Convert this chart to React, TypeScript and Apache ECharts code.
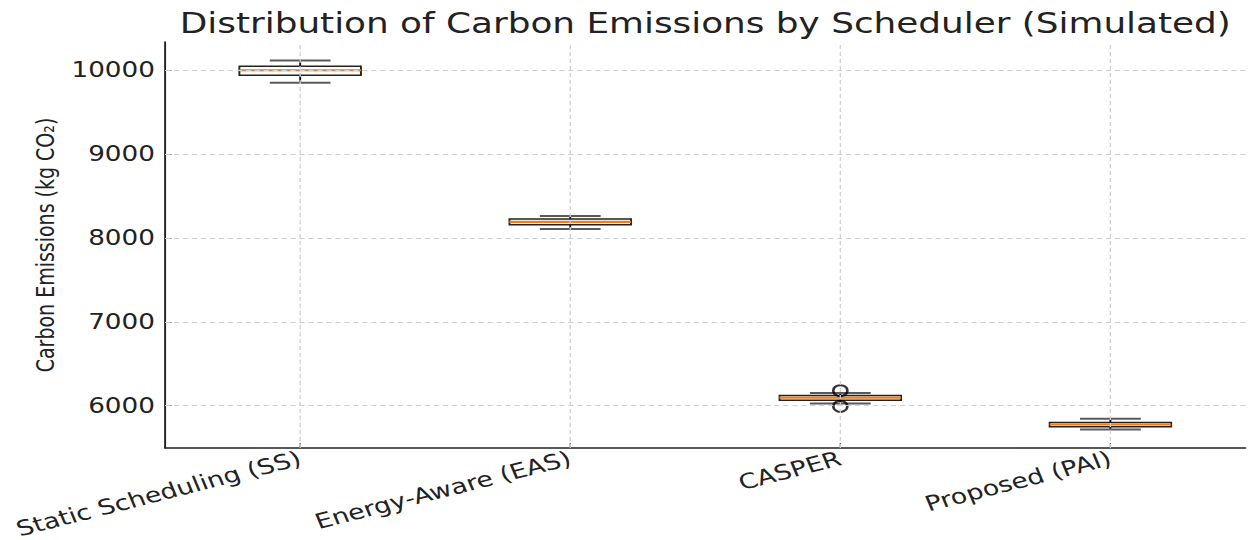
import { useEffect, useRef } from 'react';
import * as echarts from 'echarts';

// ---- data ----
const categories = ['Static Scheduling (SS)', 'Energy-Aware (EAS)', 'CASPER', 'Proposed (PAI)'];
const whiskerLow = [9850, 8105, 6025, 5715];
const q1 = [9938, 8155, 6065, 5748];
const median = [9998, 8190, 6095, 5775];
const q3 = [10045, 8225, 6122, 5800];
const whiskerHigh = [10115, 8262, 6150, 5845];
const outlierCategory = ['CASPER', 'CASPER'];
const outlierValues = [6178, 5992];
const yTicks = [6000, 7000, 8000, 9000, 10000];
const yMin = 5495;
const yMax = 10335;

const titleText = 'Distribution of Carbon Emissions by Scheduler (Simulated)';
const yName = 'Carbon Emissions (kg CO\u2082)';

// ---- layout (the reference is horizontally stretched) ----
const W = 1253;
const H = 540;
const STRETCH = 1.28;
const innerW = Math.round(W / STRETCH);
const FONT = 'DejaVu Sans';

export default function App() {
  const ref = useRef<HTMLDivElement>(null);

  useEffect(() => {
    if (!ref.current) return;
    const chart = echarts.init(ref.current, null, { renderer: 'svg', width: innerW, height: H });

    const boxData = categories.map((_, i) => [i, whiskerLow[i], q1[i], median[i], q3[i], whiskerHigh[i]]);
    const outlierData = outlierCategory.map((c, i) => [c, outlierValues[i]]);

    const gridStyle = { color: '#cfcfcf', width: 1, type: [4, 3] as any };

    const option: any = {
      animation: false,
      backgroundColor: '#ffffff',
      title: {
        text: titleText,
        left: 546,
        top: 4,
        textAlign: 'center',
        textStyle: { fontFamily: FONT, fontSize: 28, fontWeight: 'normal', color: '#222' },
      },
      grid: { left: 129, right: 6, top: 42, bottom: 92, containLabel: false, outerBoundsMode: 'none' },
      xAxis: {
        type: 'category',
        data: categories,
        boundaryGap: true,
        axisLine: { show: true, lineStyle: { color: '#222', width: 1.5 } },
        axisTick: { show: true, alignWithLabel: true, inside: true, length: 5, lineStyle: { color: '#555', width: 1 } },
        axisLabel: { rotate: 18, margin: 10, fontFamily: FONT, fontSize: 21, color: '#222', interval: 0 },
        splitLine: { show: false },
      },
      yAxis: {
        type: 'value',
        min: yMin,
        max: yMax,
        name: yName,
        nameLocation: 'middle',
        nameRotate: 90,
        nameGap: 76,
        nameTextStyle: { fontFamily: FONT, fontSize: 19, color: '#222' },
        axisLine: { show: true, lineStyle: { color: '#222', width: 1.5 } },
        axisTick: { show: true, inside: true, length: 5, customValues: yTicks, lineStyle: { color: '#777', width: 1 } },
        axisLabel: {
          customValues: yTicks,
          margin: 8,
          fontFamily: FONT,
          fontSize: 20.5,
          color: '#222',
          formatter: (v: number) => String(v),
        },
        splitLine: { show: false },
      },
      series: [
        {
          type: 'custom',
          z: 3,
          encode: { x: 0, y: [1, 2, 3, 4, 5] },
          data: boxData,
          renderItem: (params: any, api: any) => {
            const i = api.value(0);
            const cx = api.coord([i, api.value(3)])[0];
            const yLow = api.coord([i, api.value(1)])[1];
            const yQ1 = api.coord([i, api.value(2)])[1];
            const yMed = api.coord([i, api.value(3)])[1];
            const yQ3 = api.coord([i, api.value(4)])[1];
            const yHigh = api.coord([i, api.value(5)])[1];
            const band = (api.size([1, 0]) as number[])[0];
            const bw = band * 0.45;
            const cw = band * 0.225;
            return {
              type: 'group',
              children: [
                { type: 'line', shape: { x1: cx, y1: yQ1, x2: cx, y2: yLow }, style: { stroke: '#111', lineWidth: 1.5 } },
                { type: 'line', shape: { x1: cx, y1: yQ3, x2: cx, y2: yHigh }, style: { stroke: '#111', lineWidth: 1.5 } },
                { type: 'line', shape: { x1: cx - cw / 2, y1: yLow, x2: cx + cw / 2, y2: yLow }, style: { stroke: '#5a5a5a', lineWidth: 2 } },
                { type: 'line', shape: { x1: cx - cw / 2, y1: yHigh, x2: cx + cw / 2, y2: yHigh }, style: { stroke: '#5a5a5a', lineWidth: 2 } },
                { type: 'rect', shape: { x: cx - bw / 2, y: yQ3, width: bw, height: yQ1 - yQ3 }, style: { fill: 'rgba(0,0,0,0)', stroke: '#222', lineWidth: 1.5 } },
                { type: 'line', shape: { x1: cx - bw / 2, y1: yMed, x2: cx + bw / 2, y2: yMed }, style: { stroke: '#f07f1a', lineWidth: 2.2 } },
              ],
            };
          },
          markLine: {
            silent: true,
            symbol: ['none', 'none'],
            label: { show: false },
            lineStyle: gridStyle,
            data: [
              ...yTicks.map((v) => ({ yAxis: v })),
              ...categories.map((c) => ({ xAxis: c })),
            ],
          },
        },
        {
          type: 'scatter',
          z: 4,
          data: outlierData,
          symbol: 'circle',
          symbolSize: 11,
          itemStyle: { color: 'rgba(0,0,0,0)', borderColor: '#000', borderWidth: 2 },
        },
      ],
    };

    chart.setOption(option);
    return () => chart.dispose();
  }, []);

  return (
    <div style={{ position: 'fixed', left: 0, top: 0, width: W, height: H, overflow: 'hidden', background: '#fff' }}>
      <div
        ref={ref}
        style={{ width: innerW, height: H, transform: `scaleX(${STRETCH})`, transformOrigin: '0 0' }}
      />
    </div>
  );
}
